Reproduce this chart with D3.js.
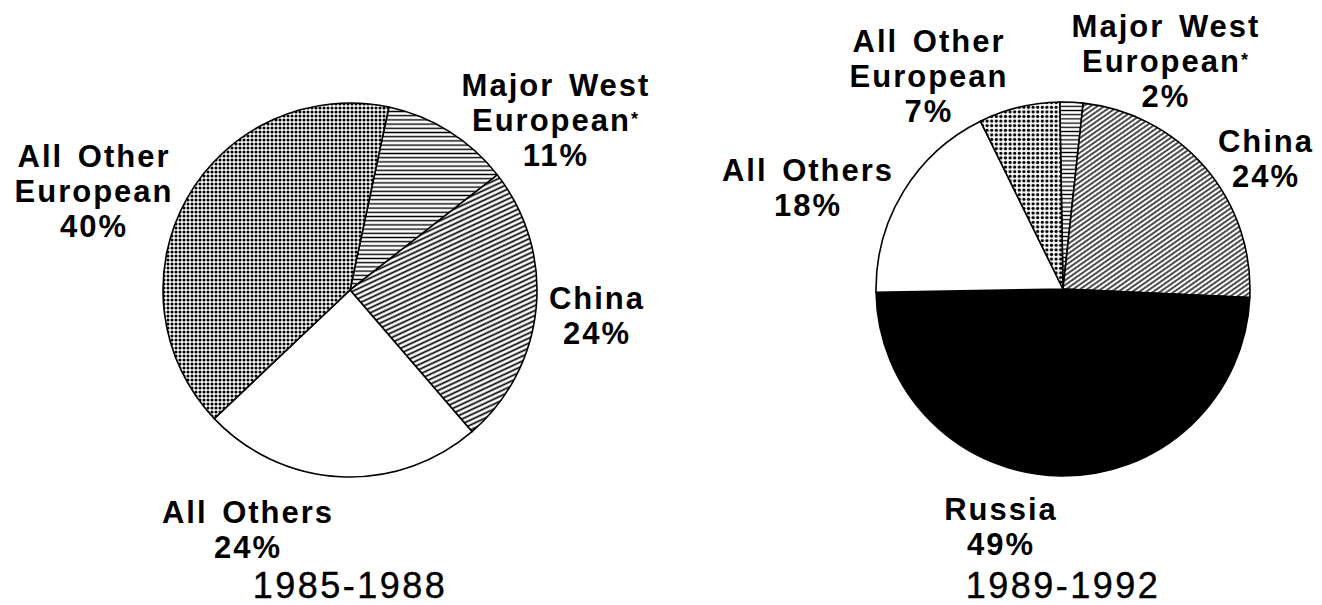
<html lang="en">
  <head>
    <meta charset="UTF-8" />
    <title>Pie charts 1985-1988 / 1989-1992</title>
    <script src="https://d3js.org/d3.v7.min.js"></script>
  </head>
  <style>
    body {
      margin: 0;
      background: #fff;
    }

    svg {
      display: block;
    }

    text.lbl {
      font-family: "Liberation Sans", Arial, sans-serif;
      font-weight: bold;
      font-size: 31px;
      letter-spacing: 2px;
      word-spacing: 4px;
      fill: #000;
    }

    text.year {
      font-family: "Liberation Sans", Arial, sans-serif;
      font-size: 36px;
      letter-spacing: 2.5px;
      fill: #000;
      stroke: #000;
      stroke-width: 0.4px;
    }

    path.slice {
      stroke: #000;
      stroke-width: 1.6px;
    }
  </style>
  <body>
    <div id="viz"></div>
    <script>
      // data
      var periods = ["1985-1988", "1989-1992"];
      var cats1985 = ["Major West European*", "China", "All Others", "All Other European"];
      var vals1985 = [11, 24, 24, 40];
      var cats1989 = ["Major West European*", "China", "Russia", "All Others", "All Other European"];
      var vals1989 = [2, 24, 49, 18, 7];

      var labelLines = {
        "Major West European*": ["Major West", "European*"],
        "China": ["China"],
        "All Others": ["All Others"],
        "All Other European": ["All Other", "European"],
        "Russia": ["Russia"]
      };

      // layout (pie centres, start angles, label anchors relative to centre)
      var W = 1322, H = 605, R = 187, pitch = 35;
      var pies = [
        {
          cx: 350, cy: 290, start: 12, cats: cats1985, vals: vals1985,
          anchors: {
            "Major West European*": [206, -194],
            "China": [247, 19],
            "All Others": [-102, 233],
            "All Other European": [-256, -123]
          },
          fills: {
            "Major West European*": "url(#hl0)",
            "China": "url(#diag0)",
            "All Others": "#fff",
            "All Other European": "url(#dots0)"
          }
        },
        {
          cx: 1063, cy: 289, start: -1, cats: cats1989, vals: vals1989,
          anchors: {
            "Major West European*": [103, -252],
            "China": [203, -137],
            "Russia": [-62, 231],
            "All Others": [-255, -108],
            "All Other European": [-134, -237]
          },
          fills: {
            "Major West European*": "url(#hl1)",
            "China": "url(#diag1)",
            "Russia": "#000",
            "All Others": "#fff",
            "All Other European": "url(#dots1)"
          }
        }
      ];

      var svg = d3.select("#viz").append("svg").attr("width", W).attr("height", H);
      var defs = svg.append("defs");

      function dots(id, s, r) {
        var p = defs.append("pattern").attr("id", id)
          .attr("patternUnits", "userSpaceOnUse").attr("width", s).attr("height", s);
        p.append("rect").attr("width", s).attr("height", s).attr("fill", "#fff");
        p.append("circle").attr("cx", s / 2).attr("cy", s / 2).attr("r", r).attr("fill", "#000");
      }
      function lines(id, s, w, angle) {
        var p = defs.append("pattern").attr("id", id)
          .attr("patternUnits", "userSpaceOnUse").attr("width", 10).attr("height", s)
          .attr("patternTransform", "rotate(" + angle + ")");
        p.append("rect").attr("width", 10).attr("height", s).attr("fill", "#fff");
        p.append("line").attr("x1", 0).attr("x2", 10).attr("y1", s / 2).attr("y2", s / 2)
          .attr("stroke", "#000").attr("stroke-width", w);
      }
      dots("dots0", 4, 1.55);
      dots("dots1", 4.6, 1.65);
      lines("hl0", 4.2, 1.4, 0);
      lines("hl1", 4.2, 1.3, 0);
      lines("diag0", 4.5, 1.7, -25);
      lines("diag1", 4, 1.4, -35);

      var arc = d3.arc().innerRadius(0).outerRadius(R);

      pies.forEach(function (cfg, i) {
        var a0 = cfg.start * Math.PI / 180;
        var pie = d3.pie().sort(null).startAngle(a0).endAngle(a0 + 2 * Math.PI);
        var data = pie(cfg.vals);

        var g = svg.append("g").attr("transform", "translate(" + cfg.cx + "," + cfg.cy + ")");

        g.selectAll("path.slice")
          .data(data)
          .enter()
          .append("path")
          .attr("class", "slice")
          .attr("d", arc)
          .attr("fill", function (d, k) { return cfg.fills[cfg.cats[k]]; });

        cfg.cats.forEach(function (c, k) {
          var pos = cfg.anchors[c];
          var lns = labelLines[c].concat([cfg.vals[k] + "%"]);
          var t = g.append("text").attr("class", "lbl")
            .attr("text-anchor", "middle")
            .attr("x", pos[0]).attr("y", pos[1]);
          lns.forEach(function (ln, j) {
            var ts = t.append("tspan").attr("x", pos[0]).attr("y", pos[1] + j * pitch);
            if (ln.slice(-1) === "*") {
              ts.text(ln.slice(0, -1));
              t.append("tspan").attr("dy", -6).style("font-size", "18px").text("*");
            } else {
              ts.text(ln);
            }
          });
        });

        g.append("text").attr("class", "year")
          .attr("text-anchor", "middle")
          .attr("x", 0).attr("y", 598 - cfg.cy)
          .text(periods[i]);
      });
    </script>
  </body>
</html>
